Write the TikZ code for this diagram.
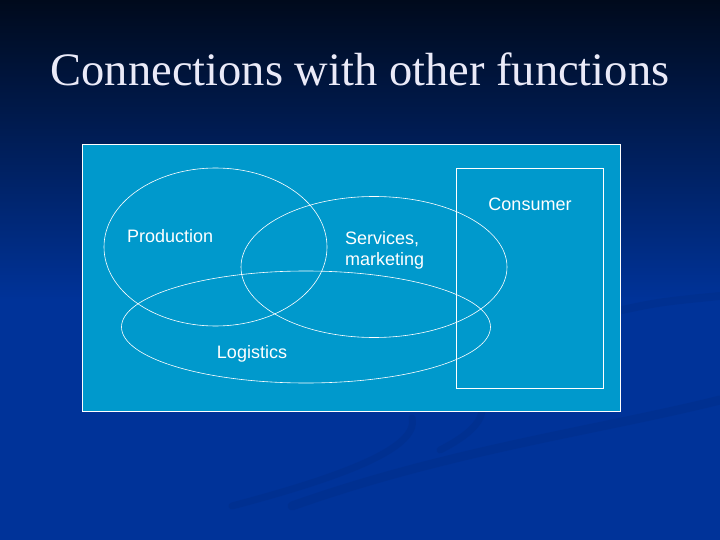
\documentclass[tikz,border=0pt]{standalone}
\usepackage{fontspec}
\setmainfont{Liberation Serif}
\newfontfamily\labelfont{Liberation Sans}
\usetikzlibrary{shapes.geometric}

\definecolor{slidetop}{HTML}{000A1C}
\definecolor{slideblue}{HTML}{003399}
\definecolor{panelblue}{HTML}{0099CC}
\definecolor{swoosh}{HTML}{002E88}
\definecolor{titlewhite}{HTML}{EAEAF8}

\begin{document}
\begin{tikzpicture}[
  x=1pt, y=-1pt,
  set/.style={ellipse, draw=white, line width=0.6pt, inner sep=0pt},
  set label/.style={font=\labelfont\fontsize{18}{21}\selectfont, text=white, inner sep=0pt, align=left},
  swoosh line/.style={swoosh, opacity=0.45, line cap=round}
]
\useasboundingbox (0,0) rectangle (720,540);

% Background
\fill[slideblue] (0,0) rectangle (720,540);
\shade[top color=slidetop, bottom color=slideblue] (0,0) rectangle (720,300);
\draw[swoosh line, line width=8pt] (622,310) .. controls (660,302) .. (720,296);
\draw[swoosh line, line width=7pt] (232,506) .. controls (330,480) and (420,450) .. (412,418);
\draw[swoosh line, line width=7pt] (460,388) .. controls (500,405) and (480,430) .. (440,450);
\draw[swoosh line, line width=9pt] (292,506) .. controls (450,450) and (600,430) .. (720,400);

% Title
\node (title) [text=titlewhite, font=\fontsize{46.5}{50}\selectfont] at (360,69) {Connections with other functions};

% Panel
\node (panel) [draw=white, line width=1pt, fill=panelblue, minimum width=538pt, minimum height=266pt, inner sep=0pt] at (351.5,278) {};
\node (consumer box) [draw=white, line width=0.8pt, minimum width=147pt, minimum height=220pt, inner sep=0pt] at (530,278.5) {};

% Sets
\node (prod) [set, minimum width=223pt, minimum height=158pt] at (215.5,247) {};
\node (serv) [set, minimum width=266pt, minimum height=141pt] at (374,267) {};
\node (logi) [set, minimum width=369pt, minimum height=112pt] at (306,327) {};

% Labels
\node (consumer) [set label] at (530,204) {Consumer};
\node (prod label) [set label, anchor=west] at (127,236) {Production};
\node (serv label) [set label, anchor=west] at (345,250) {Services,\\marketing};
\node (logi label) [set label] at (252,354) {Logistics};
\end{tikzpicture}
\end{document}
